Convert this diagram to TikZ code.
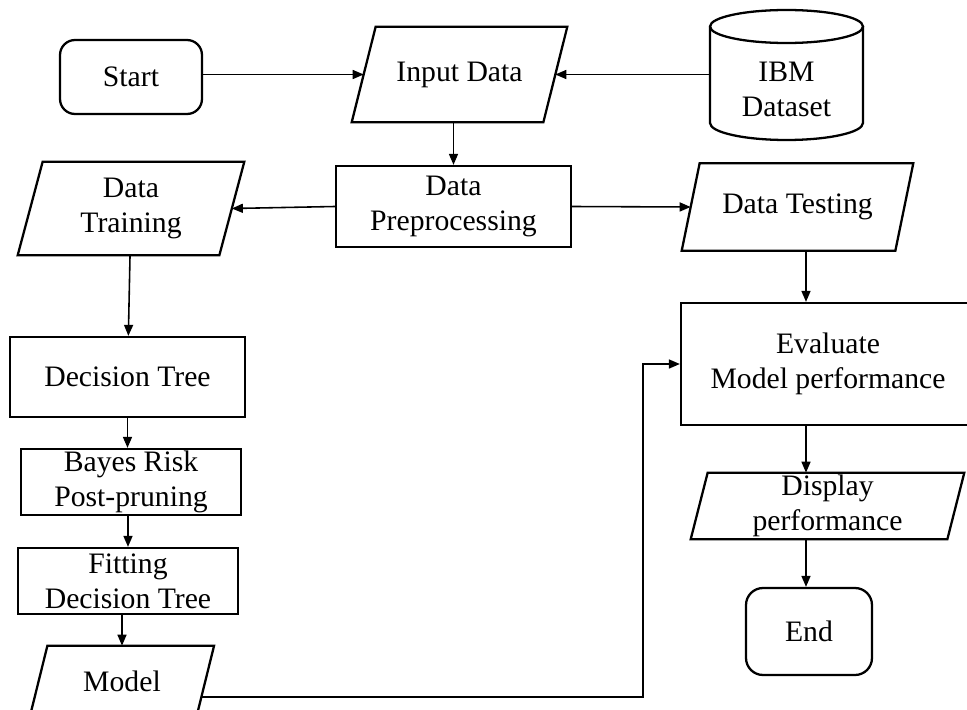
\documentclass[tikz,border=0pt]{standalone}
\usepackage{fontspec}
\setmainfont{Liberation Serif}
\usetikzlibrary{arrows.meta,calc}

% slanted (input/output) box drawn around a named text node
% #1 = node name, #2 = half of the horizontal slant
\newcommand\slantbox[2]{%
  \draw[box] ([xshift=-#2]#1.south west) -- ([xshift=#2]#1.north west)
    -- ([xshift=#2]#1.north east) -- ([xshift=-#2]#1.south east) -- cycle;}

\begin{document}
\begin{tikzpicture}[x=0.02cm,y=-0.02cm,
  box/.style={draw=black, line width=1.3pt},
  lbl/.style={font=\fontsize{16.9}{20}\selectfont, align=center, inner sep=0pt},
  proc/.style={lbl, box, rectangle},
  term/.style={lbl, box, rectangle, rounded corners=#1},
  io/.style={lbl, rectangle},
  arr/.style={draw=black, line width=0.9pt, -{Triangle[length=0.22cm,width=0.18cm]}}
]
\clip (0,0) rectangle (967,710);

% ---- top row
\node[term=0.3cm, minimum width=2.84cm, minimum height=1.48cm] (start) at (131,77) {Start};
\node[io, minimum width=3.82cm, minimum height=1.9cm] (input) at (459.5,74.5) {Input Data};
\slantbox{input}{0.24cm}

% database cylinder
\node[lbl, minimum width=3.06cm, minimum height=1.6cm] (ibm) at (786.5,89) {IBM\\Dataset};
\draw[box] (786.5,26.5) ellipse [x radius=1.53cm, y radius=0.33cm];
\draw[box] (710,26.5) -- (710,123) arc[start angle=180, end angle=360, x radius=1.53cm, y radius=0.34cm] -- (863,26.5);

% ---- second row
\node[proc, minimum width=4.7cm, minimum height=1.62cm] (preproc) at (453.5,206.5) {Data\\Preprocessing};
\node[io, minimum width=4.02cm, minimum height=1.86cm] (training) at (131,208.5) {Data\\Training};
\slantbox{training}{0.25cm}
\node[io, minimum width=4.26cm, minimum height=1.74cm] (testing) at (797.5,207) {Data Testing};
\slantbox{testing}{0.18cm}

% ---- left column
\node[proc, minimum width=4.7cm, minimum height=1.6cm] (dtree) at (127.5,377) {Decision Tree};
\node[proc, minimum width=4.4cm, minimum height=1.32cm] (bayes) at (131,482) {Bayes Risk\\Post-pruning};
\node[proc, minimum width=4.4cm, minimum height=1.32cm] (fitting) at (128,581) {Fitting\\Decision Tree};
\node[io, minimum width=3.32cm, minimum height=1.4cm] (model) at (122,681) {Model};
\slantbox{model}{0.175cm}

% ---- right column
\node[proc, minimum width=5.88cm, minimum height=2.44cm] (eval) at (828,364) {Evaluate\\Model performance};
\node[io, minimum width=5.12cm, minimum height=1.32cm] (display) at (827.5,506) {Display\\performance};
\slantbox{display}{0.17cm}
\node[term=0.34cm, minimum width=2.52cm, minimum height=1.74cm] (end) at (809,631.5) {End};

% vertical line shared by the right-hand arrows
\coordinate (spine) at (806,0);

% ---- connectors
\draw[arr] (start.east |- input) -- (input.west);
\draw[arr] (ibm.west |- input) -- (input.east);
\draw[arr] (input.south -| preproc) -- (preproc.north);
\draw[arr] (preproc.west) -- (training.east);
\draw[arr] (preproc.east) -- (testing.west);
\draw[arr] (training) -- (dtree);
\draw[arr] (dtree.south) -- (dtree.south |- bayes.north);
\draw[arr] (bayes.south -| fitting) -- (fitting.north);
\draw[arr] (fitting.south -| model) -- (model.north);
\draw[arr] (testing.south -| spine) -- (eval.north -| spine);
\draw[arr] (eval.south -| spine) -- (display.north -| spine);
\draw[arr] (display.south -| spine) -- (end.north -| spine);
\draw[arr] ([xshift=-0.08cm,yshift=-0.32cm]model.east) -| ([xshift=-0.74cm]eval.west) -- (eval.west);
\end{tikzpicture}
\end{document}
